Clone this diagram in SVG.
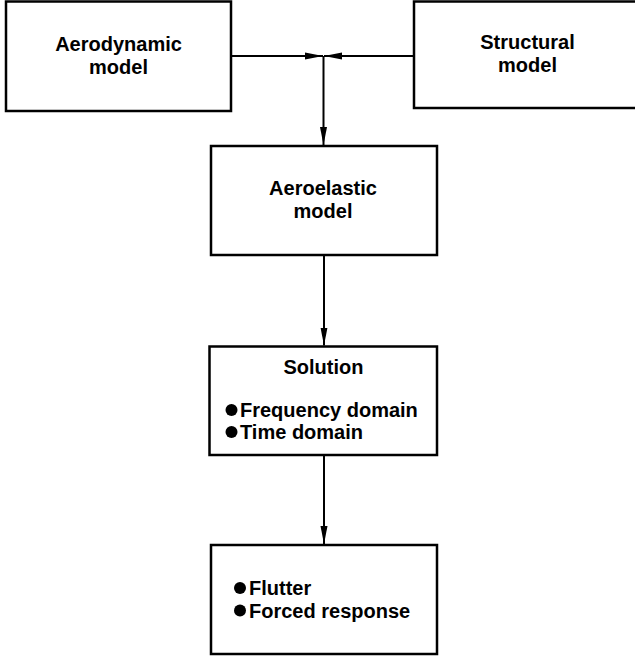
<svg xmlns="http://www.w3.org/2000/svg" width="635" height="657" viewBox="0 0 635 657">
<defs>
<style>
.box{fill:#fff;stroke:#000;stroke-width:2.5}
.t{font-family:"Liberation Sans",Arial,sans-serif;font-weight:bold;font-size:20px;fill:#000}
.c{text-anchor:middle}
.con{fill:none;stroke:#000;stroke-width:2}
.dot{fill:#000}
</style>
<marker id="ah" markerUnits="userSpaceOnUse" markerWidth="18" markerHeight="8" refX="18" refY="4" orient="auto">
<path d="M0,0.5 L18,4 L0,7.5 z" fill="#000"/>
</marker>
</defs>
<rect width="635" height="657" fill="#fff"/>
<g id="aerodynamic">
<rect class="box" x="6" y="1.5" width="225" height="109.5"/>
<text class="t c" x="118.5" y="51">Aerodynamic</text>
<text class="t c" x="118.5" y="74">model</text>
</g>
<g id="structural">
<rect class="box" x="414" y="1.5" width="240" height="106.5"/>
<text class="t c" x="527.5" y="49">Structural</text>
<text class="t c" x="527.5" y="72">model</text>
</g>
<g id="aeroelastic">
<rect class="box" x="211" y="146" width="226" height="109"/>
<text class="t c" x="323" y="195">Aeroelastic</text>
<text class="t c" x="323" y="218">model</text>
</g>
<g id="solution">
<rect class="box" x="209.5" y="346.5" width="227.5" height="108.5"/>
<text class="t c" x="323.5" y="374">Solution</text>
<circle class="dot" cx="231.5" cy="410" r="6"/>
<text class="t" x="240" y="417">Frequency domain</text>
<circle class="dot" cx="231.5" cy="432" r="6"/>
<text class="t" x="240" y="439">Time domain</text>
</g>
<g id="results">
<rect class="box" x="211" y="545" width="226" height="109"/>
<circle class="dot" cx="240" cy="588" r="6"/>
<text class="t" x="249" y="595">Flutter</text>
<circle class="dot" cx="240" cy="610.5" r="6"/>
<text class="t" x="249" y="617.5">Forced response</text>
</g>
<g id="connectors">
<path class="con" d="M231,56 H323" marker-end="url(#ah)"/>
<path class="con" d="M414,56 H324" marker-end="url(#ah)"/>
<path class="con" d="M323.5,56 V145" marker-end="url(#ah)"/>
<path class="con" d="M324,255 V345.5" marker-end="url(#ah)"/>
<path class="con" d="M324,455 V544" marker-end="url(#ah)"/>
</g>
</svg>
